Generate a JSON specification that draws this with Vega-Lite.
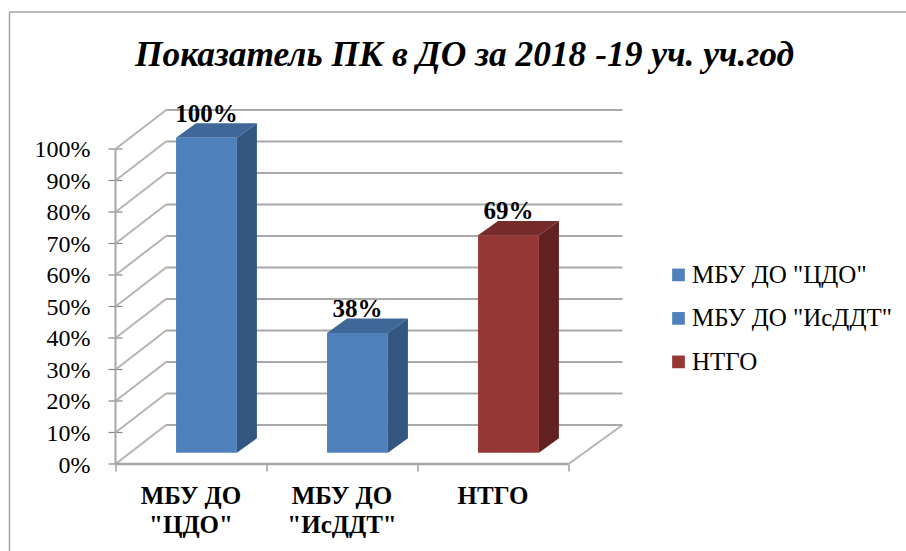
{
  "$schema": "https://vega.github.io/schema/vega-lite/v6.json",
  "width": 507,
  "height": 354.6,
  "autosize": {"type": "none", "contains": "content"},
  "padding": {"left": 115.5, "top": 109.4, "right": 283.5, "bottom": 87},
  "background": "white",
  "title": {
    "text": "Показатель ПК в ДО за 2018 -19 уч. уч.год",
    "anchor": "start",
    "frame": "group",
    "dx": 19.5,
    "offset": -62,
    "font": "Liberation Serif",
    "fontSize": 35.4,
    "fontWeight": "bold",
    "fontStyle": "italic",
    "color": "black"
  },
  "config": {
    "view": {"stroke": null},
    "axis": {"grid": false, "title": null},
    "text": {"font": "Liberation Serif"}
  },
  "datasets": {
    "bars": [
      {"category": "МБУ ДО \"ЦДО\"", "value": 100},
      {"category": "МБУ ДО \"ИсДДТ\"", "value": 38},
      {"category": "НТГО", "value": 69}
    ],
    "ticks": [
      {"tick": 0}, {"tick": 10}, {"tick": 20}, {"tick": 30}, {"tick": 40}, {"tick": 50},
      {"tick": 60}, {"tick": 70}, {"tick": 80}, {"tick": 90}, {"tick": 100}
    ]
  },
  "layer": [
    {
      "data": {"name": "ticks"},
      "mark": {"type": "rule", "color": "#a9a9a9", "strokeWidth": 2, "yOffset": -39},
      "encoding": {
        "x": {"datum": 0.335, "type": "quantitative", "scale": {"domain": [0, 3.3576], "nice": false, "zero": false},
          "axis": {"values": [0, 1, 2, 3], "labels": false, "domain": false, "tickSize": 7, "tickColor": "#868686", "tickWidth": 1.2}},
        "x2": {"datum": 3.3576},
        "y": {"field": "tick", "type": "quantitative", "scale": {"domain": [0, 112.57], "nice": false, "zero": false}, "axis": null}
      }
    },
    {
      "data": {"name": "ticks"},
      "mark": {"type": "rule", "color": "#868686", "strokeWidth": 1.2, "xOffset": -7, "x2Offset": 0},
      "encoding": {
        "x": {"datum": 0, "type": "quantitative", "scale": {"domain": [0, 3.3576], "nice": false, "zero": false}},
        "x2": {"datum": 0.0464},
        "y": {"field": "tick", "type": "quantitative", "scale": {"domain": [0, 112.57], "nice": false, "zero": false}, "axis": null}
      }
    },
    {
      "data": {"name": "ticks"},
      "transform": [{"calculate": "datum.tick + '%'", "as": "label"}],
      "mark": {"type": "text", "font": "Liberation Serif", "fontSize": 24, "align": "right", "baseline": "middle", "dx": -25, "dy": 1.5, "color": "black", "clip": false},
      "encoding": {
        "x": {"datum": 0, "type": "quantitative", "scale": {"domain": [0, 3.3576], "nice": false, "zero": false}},
        "y": {"field": "tick", "type": "quantitative", "scale": {"domain": [0, 112.57], "nice": false, "zero": false}, "axis": null},
        "text": {"field": "label"}
      }
    },
    {
      "data": {"name": "ticks"},
      "mark": {"type": "rule", "color": "#b4b4b4", "strokeWidth": 2, "y2Offset": -39},
      "encoding": {
        "x": {"datum": 0, "type": "quantitative", "scale": {"domain": [0, 3.3576], "nice": false, "zero": false}},
        "x2": {"datum": 0.335},
        "y": {"field": "tick", "type": "quantitative", "scale": {"domain": [0, 112.57], "nice": false, "zero": false}, "axis": null},
        "y2": {"field": "tick"}
      }
    },
    {
      "data": {"values": [{"corner": 3}]},
      "mark": {"type": "rule", "color": "#b4b4b4", "strokeWidth": 2, "y2Offset": -39},
      "encoding": {
        "x": {"field": "corner", "type": "quantitative", "scale": {"domain": [0, 3.3576], "nice": false, "zero": false}},
        "x2": {"datum": 3.3576},
        "y": {"datum": 0, "type": "quantitative", "scale": {"domain": [0, 112.57], "nice": false, "zero": false}, "axis": null},
        "y2": {"datum": 0}
      }
    },
    {
      "data": {"values": [{"from": 0, "to": 100}]},
      "mark": {"type": "rule", "color": "#a6a6a6", "strokeWidth": 2},
      "encoding": {
        "x": {"datum": 0, "type": "quantitative", "scale": {"domain": [0, 3.3576], "nice": false, "zero": false}},
        "y": {"field": "from", "type": "quantitative", "scale": {"domain": [0, 112.57], "nice": false, "zero": false}, "axis": null},
        "y2": {"field": "to"}
      }
    },
    {
      "data": {"values": [{"from": 0, "to": 3}]},
      "mark": {"type": "rule", "color": "#a6a6a6", "strokeWidth": 2.5},
      "encoding": {
        "x": {"field": "from", "type": "quantitative", "scale": {"domain": [0, 3.3576], "nice": false, "zero": false}},
        "x2": {"field": "to"},
        "y": {"datum": 0, "type": "quantitative", "scale": {"domain": [0, 112.57], "nice": false, "zero": false}, "axis": null}
      }
    },
    {
      "data": {"values": [{"edge": "frame"}]},
      "mark": {"type": "rule", "color": "#a3a3a3", "strokeWidth": 1.5, "clip": false},
      "encoding": {
        "x": {"datum": -0.702, "type": "quantitative", "scale": {"domain": [0, 3.3576], "nice": false, "zero": false}},
        "x2": {"datum": 5.3},
        "y": {"datum": 143.5, "type": "quantitative", "scale": {"domain": [0, 112.57], "nice": false, "zero": false}, "axis": null}
      }
    },
    {
      "data": {"values": [{"edge": "frame"}]},
      "mark": {"type": "rule", "color": "#a3a3a3", "strokeWidth": 1.5, "clip": false},
      "encoding": {
        "x": {"datum": -0.702, "type": "quantitative", "scale": {"domain": [0, 3.3576], "nice": false, "zero": false}},
        "y": {"datum": 143.5, "type": "quantitative", "scale": {"domain": [0, 112.57], "nice": false, "zero": false}, "axis": null},
        "y2": {"datum": -30}
      }
    },
    {
      "data": {"name": "bars"},
      "transform": [
        {"window": [{"op": "row_number", "as": "slot"}]},
        {"calculate": "[0, 1]", "as": "d"},
        {"flatten": ["d"]},
        {"calculate": "datum.slot - 1 + 0.804 + datum.d * 0.1325", "as": "xs"},
        {"calculate": "3.58 + datum.value + datum.d * 4.6", "as": "ytop"},
        {"calculate": "3.58 + datum.d * 4.6", "as": "ybase"}
      ],
      "mark": {"type": "area", "orient": "vertical", "interpolate": "linear"},
      "encoding": {
        "x": {"field": "xs", "type": "quantitative", "scale": {"domain": [0, 3.3576], "nice": false, "zero": false}},
        "y": {"field": "ytop", "type": "quantitative", "scale": {"domain": [0, 112.57], "nice": false, "zero": false}, "axis": null},
        "y2": {"field": "ybase"},
        "color": {"field": "category", "type": "nominal", "legend": null,
          "scale": {"domain": ["МБУ ДО \"ЦДО\"", "МБУ ДО \"ИсДДТ\"", "НТГО"], "range": ["#335780", "#335780", "#622120"]}}
      }
    },
    {
      "data": {"name": "bars"},
      "transform": [
        {"window": [{"op": "row_number", "as": "slot"}]},
        {"calculate": "[0, 1]", "as": "d"},
        {"flatten": ["d"]},
        {"calculate": "datum.slot - 1 + 0.401 + datum.d * 0.1325", "as": "xa"},
        {"calculate": "datum.slot - 1 + 0.804 + datum.d * 0.1325", "as": "xb"},
        {"calculate": "3.58 + datum.value + datum.d * 4.6", "as": "ytop"}
      ],
      "mark": {"type": "area", "orient": "horizontal", "interpolate": "linear"},
      "encoding": {
        "x": {"field": "xa", "type": "quantitative", "scale": {"domain": [0, 3.3576], "nice": false, "zero": false}},
        "x2": {"field": "xb"},
        "y": {"field": "ytop", "type": "quantitative", "scale": {"domain": [0, 112.57], "nice": false, "zero": false}, "axis": null},
        "color": {"field": "category", "type": "nominal", "legend": null,
          "scale": {"domain": ["МБУ ДО \"ЦДО\"", "МБУ ДО \"ИсДДТ\"", "НТГО"], "range": ["#3f6797", "#3f6797", "#752b2a"]}}
      }
    },
    {
      "data": {"name": "bars"},
      "transform": [
        {"window": [{"op": "row_number", "as": "slot"}]},
        {"calculate": "datum.slot - 1 + 0.401", "as": "xa"},
        {"calculate": "datum.slot - 1 + 0.804", "as": "xb"},
        {"calculate": "3.58 + datum.value", "as": "ytop"},
        {"calculate": "3.58", "as": "ybase"}
      ],
      "mark": {"type": "rect"},
      "encoding": {
        "x": {"field": "xa", "type": "quantitative", "scale": {"domain": [0, 3.3576], "nice": false, "zero": false}},
        "x2": {"field": "xb"},
        "y": {"field": "ytop", "type": "quantitative", "scale": {"domain": [0, 112.57], "nice": false, "zero": false}, "axis": null},
        "y2": {"field": "ybase"},
        "color": {"field": "category", "type": "nominal",
          "scale": {"domain": ["МБУ ДО \"ЦДО\"", "МБУ ДО \"ИсДДТ\"", "НТГО"], "range": ["#4f81bd", "#4f81bd", "#953735"]},
          "legend": {
            "orient": "none", "legendX": 550.5, "legendY": 153, "title": null,
            "symbolType": "square", "symbolSize": 161, "symbolStrokeWidth": 0, "symbolOpacity": 1,
            "labelFont": "Liberation Serif", "labelFontSize": 25, "labelColor": "black", "labelOffset": 1,
            "labelLimit": 300, "rowPadding": 17.5, "padding": 0
          }}
      }
    },
    {
      "data": {"name": "bars"},
      "transform": [
        {"window": [{"op": "row_number", "as": "slot"}]},
        {"calculate": "datum.slot - 1 + 0.602", "as": "xc"},
        {"calculate": "3.58 + datum.value", "as": "ytop"},
        {"calculate": "datum.value + '%'", "as": "label"}
      ],
      "mark": {"type": "text", "font": "Liberation Serif", "fontWeight": "bold", "fontSize": 25, "baseline": "middle", "dy": -24, "color": "black", "clip": false},
      "encoding": {
        "x": {"field": "xc", "type": "quantitative", "scale": {"domain": [0, 3.3576], "nice": false, "zero": false}},
        "y": {"field": "ytop", "type": "quantitative", "scale": {"domain": [0, 112.57], "nice": false, "zero": false}, "axis": null},
        "text": {"field": "label"}
      }
    },
    {
      "data": {"name": "bars"},
      "transform": [
        {"window": [{"op": "row_number", "as": "slot"}]},
        {"calculate": "datum.slot - 0.5", "as": "xc"},
        {"calculate": "replace(datum.category, ' \"', '\\n\"')", "as": "label"}
      ],
      "mark": {"type": "text", "font": "Liberation Serif", "fontWeight": "bold", "fontSize": 25, "baseline": "top", "dy": 20, "lineBreak": "\n", "lineHeight": 29, "color": "black", "clip": false},
      "encoding": {
        "x": {"field": "xc", "type": "quantitative", "scale": {"domain": [0, 3.3576], "nice": false, "zero": false}},
        "y": {"datum": 0, "type": "quantitative", "scale": {"domain": [0, 112.57], "nice": false, "zero": false}, "axis": null},
        "text": {"field": "label"}
      }
    }
  ],
  "resolve": {"scale": {"color": "independent"}}
}
